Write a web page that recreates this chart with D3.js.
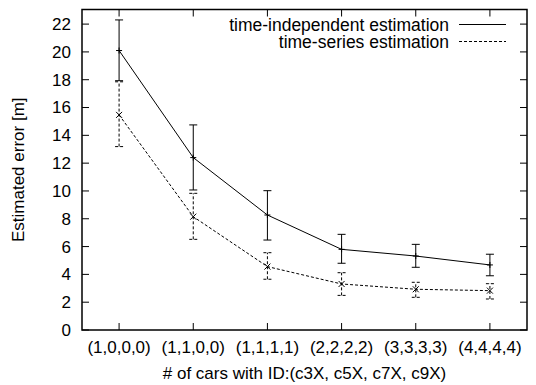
<!DOCTYPE html>
<html>
<head>
<meta charset="utf-8">
<script src="https://cdn.jsdelivr.net/npm/d3@7"></script>
<style>
  body { margin: 0; background: #fff; }
  svg { display: block; }
  text { font-family: "Liberation Sans", Arial, sans-serif; fill: #000; }
</style>
</head>
<body>
<svg id="chart" width="536" height="385"></svg>
<script>
// data
var categories = ["(1,0,0,0)", "(1,1,0,0)", "(1,1,1,1)", "(2,2,2,2)", "(3,3,3,3)", "(4,4,4,4)"];
var indepMean = [20.1, 12.4, 8.27, 5.8, 5.32, 4.68];
var indepLow  = [17.93, 10.07, 6.47, 4.8, 4.51, 3.9];
var indepHigh = [22.3, 14.75, 10.02, 6.88, 6.16, 5.45];
var seriesMean = [15.47, 8.15, 4.56, 3.31, 2.93, 2.83];
var seriesLow  = [13.19, 6.52, 3.65, 2.49, 2.35, 2.23];
var seriesHigh = [17.85, 9.83, 5.56, 4.12, 3.43, 3.33];
var yTicks = [0, 2, 4, 6, 8, 10, 12, 14, 16, 18, 20, 22];
var legendLabels = ["time-independent estimation", "time-series estimation"];

var svg = d3.select("#chart");
// plot box (avoid "top", it's window.top)
var pLeft = 82, pRight = 527, pTop = 9.5, pBottom = 330;
var dash = "3,2";

var x = d3.scaleLinear().domain([-0.5, 5.5]).range([pLeft, pRight]);
var y = d3.scaleLinear().domain([0, 23.05]).range([pBottom, pTop]);

// frame
svg.append("rect")
  .attr("x", pLeft).attr("y", pTop)
  .attr("width", pRight - pLeft).attr("height", pBottom - pTop)
  .attr("fill", "none").attr("stroke", "#000").attr("stroke-width", 1.5);

// inward ticks, mirrored like gnuplot
var tickLen = 7;
var ticks = svg.append("g").attr("stroke", "#000").attr("stroke-width", 1);
yTicks.forEach(function (v) {
  ticks.append("line").attr("x1", pLeft).attr("x2", pLeft + tickLen).attr("y1", y(v)).attr("y2", y(v));
  ticks.append("line").attr("x1", pRight).attr("x2", pRight - tickLen).attr("y1", y(v)).attr("y2", y(v));
});
categories.forEach(function (c, i) {
  ticks.append("line").attr("x1", x(i)).attr("x2", x(i)).attr("y1", pBottom).attr("y2", pBottom - tickLen);
  ticks.append("line").attr("x1", x(i)).attr("x2", x(i)).attr("y1", pTop).attr("y2", pTop + tickLen);
});

// tick labels
svg.append("g").selectAll("text").data(yTicks).enter().append("text")
  .attr("x", pLeft - 11).attr("y", d => y(d))
  .attr("dy", "0.35em").attr("text-anchor", "end")
  .attr("font-size", 17).text(d => d);

svg.append("g").selectAll("text").data(categories).enter().append("text")
  .attr("x", (d, i) => x(i)).attr("y", 353)
  .attr("text-anchor", "middle").attr("font-size", 17).text(d => d);

// axis titles
svg.append("text")
  .attr("transform", "translate(24," + ((pTop + pBottom) / 2) + ") rotate(-90)")
  .attr("text-anchor", "middle").attr("font-size", 17)
  .text("Estimated error [m]");
svg.append("text")
  .attr("x", (pLeft + pRight) / 2).attr("y", 379)
  .attr("text-anchor", "middle").attr("font-size", 17)
  .text("# of cars with ID:(c3X, c5X, c7X, c9X)");

function drawSeries(mean, low, high, dashed, marker) {
  var g = svg.append("g").attr("stroke", "#000").attr("stroke-width", 1).attr("fill", "none");
  var idx = d3.range(mean.length);
  var line = d3.line().x(i => x(i)).y(i => y(mean[i]));
  g.append("path").attr("d", line(idx)).attr("stroke-dasharray", dashed ? dash : null);

  var cap = 4;
  idx.forEach(function (i) {
    var eb = g.append("g").attr("stroke-dasharray", dashed ? dash : null);
    eb.append("line").attr("x1", x(i)).attr("x2", x(i)).attr("y1", y(low[i])).attr("y2", y(high[i]));
    eb.append("line").attr("x1", x(i) - cap).attr("x2", x(i) + cap).attr("y1", y(low[i])).attr("y2", y(low[i]));
    eb.append("line").attr("x1", x(i) - cap).attr("x2", x(i) + cap).attr("y1", y(high[i])).attr("y2", y(high[i]));

    var cx = x(i), cy = y(mean[i]), m = 3;
    if (marker === "plus") {
      g.append("line").attr("x1", cx - m).attr("x2", cx + m).attr("y1", cy).attr("y2", cy);
      g.append("line").attr("x1", cx).attr("x2", cx).attr("y1", cy - m).attr("y2", cy + m);
    } else {
      g.append("line").attr("x1", cx - m).attr("x2", cx + m).attr("y1", cy - m).attr("y2", cy + m);
      g.append("line").attr("x1", cx - m).attr("x2", cx + m).attr("y1", cy + m).attr("y2", cy - m);
    }
  });
}

drawSeries(indepMean, indepLow, indepHigh, false, "plus");
drawSeries(seriesMean, seriesLow, seriesHigh, true, "cross");

// legend
var legend = svg.append("g");
legendLabels.forEach(function (label, i) {
  var ly = 24.5 + i * 17;
  legend.append("text")
    .attr("x", 449).attr("y", ly).attr("dy", "0.35em")
    .attr("text-anchor", "end").attr("font-size", 17.5).text(label);
  legend.append("line")
    .attr("x1", 459).attr("x2", 506).attr("y1", ly).attr("y2", ly)
    .attr("stroke", "#000").attr("stroke-width", 1)
    .attr("stroke-dasharray", i === 1 ? dash : null);
});
</script>
</body>
</html>
